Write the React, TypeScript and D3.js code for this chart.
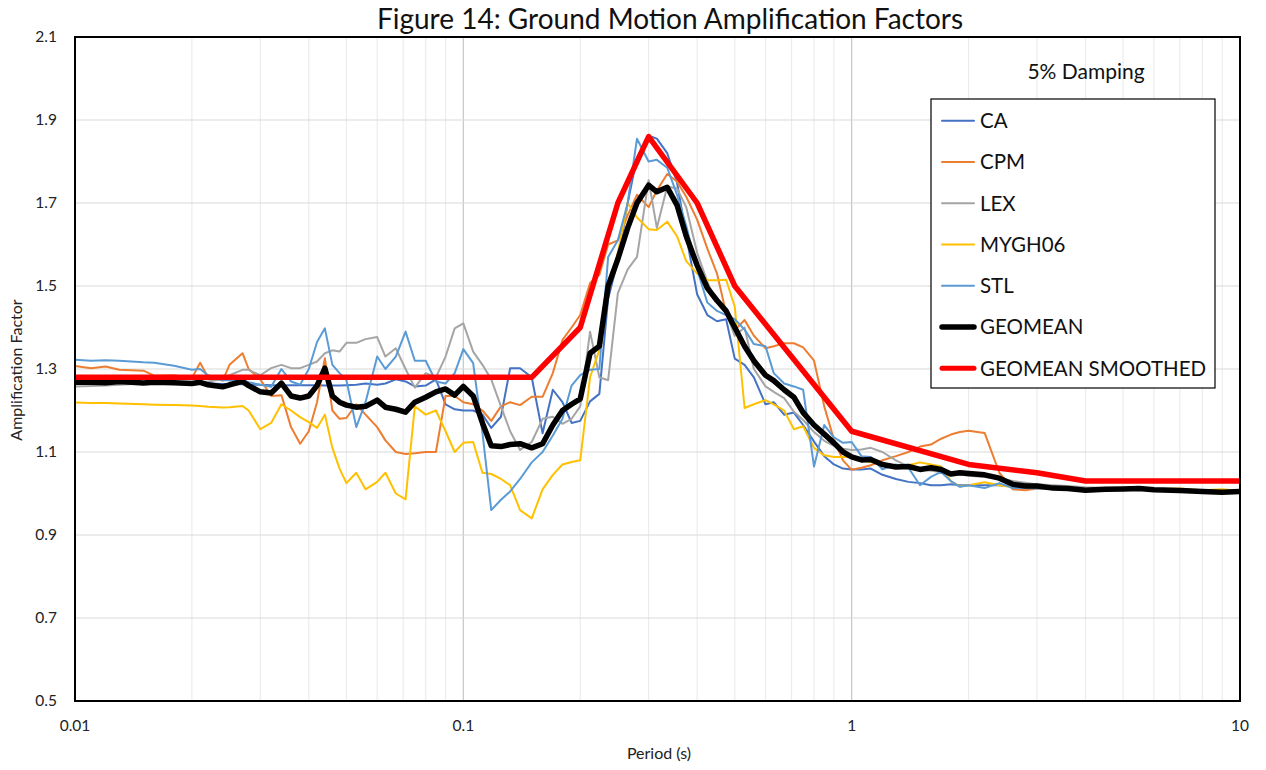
import React from "react";
import * as d3 from "d3";

// Spectral periods (s) shared by every station series
const periods = [
  0.01, 0.011, 0.012, 0.013, 0.015, 0.016, 0.018, 0.02, 0.021, 0.022, 0.024, 0.025, 0.027, 0.028, 0.03,
  0.032, 0.034, 0.036, 0.038, 0.04, 0.042, 0.044, 0.046, 0.048, 0.05, 0.053, 0.056, 0.06, 0.063, 0.067, 0.071, 0.075, 0.08, 0.085, 0.09, 0.095, 0.1,
  0.106, 0.112, 0.118, 0.125, 0.132, 0.14, 0.15, 0.16, 0.17, 0.18, 0.19, 0.2, 0.212, 0.224, 0.236, 0.25, 0.265, 0.28, 0.3,
  0.315, 0.335, 0.355, 0.375, 0.4, 0.425, 0.45, 0.475, 0.5, 0.53, 0.56, 0.6, 0.63, 0.67, 0.71, 0.75, 0.8, 0.85, 0.9, 0.95, 1.0,
  1.06, 1.12, 1.2, 1.3, 1.4, 1.5, 1.6, 1.7, 1.8, 1.9, 2.0, 2.2, 2.4, 2.6, 2.8, 3.0, 3.3, 3.6, 4.0, 4.5, 5.0, 5.5, 6, 7, 8, 9, 10,
];

const ca = [
  1.265, 1.266, 1.266, 1.266, 1.266, 1.266, 1.266, 1.265, 1.265, 1.265, 1.264, 1.264, 1.263, 1.262, 1.262,
  1.261, 1.26, 1.261, 1.261, 1.261, 1.261, 1.26, 1.26, 1.26, 1.261, 1.262, 1.265, 1.262, 1.265, 1.275, 1.27, 1.258, 1.26, 1.275, 1.215, 1.203, 1.2,
  1.2, 1.19, 1.158, 1.185, 1.302, 1.302, 1.28, 1.145, 1.25, 1.22, 1.17, 1.175, 1.222, 1.24, 1.47, 1.56, 1.7, 1.81, 1.862,
  1.855, 1.82, 1.75, 1.62, 1.48, 1.43, 1.415, 1.42, 1.325, 1.31, 1.28, 1.215, 1.22, 1.19, 1.195, 1.165, 1.125, 1.09, 1.07, 1.06, 1.058,
  1.058, 1.06, 1.045, 1.035, 1.028, 1.025, 1.02, 1.02, 1.022, 1.02, 1.02, 1.02, 1.02, 1.018, 1.017, 1.016, 1.014, 1.013, 1.01, 1.01, 1.01, 1.01, 1.008, 1.006, 1.004, 1.003, 1.004,
];

const cpm = [
  1.307, 1.302, 1.306, 1.298, 1.296, 1.284, 1.285, 1.278, 1.315, 1.28, 1.272, 1.31, 1.338, 1.3, 1.275,
  1.235, 1.237, 1.16, 1.12, 1.15, 1.22, 1.326, 1.2, 1.18, 1.182, 1.215, 1.19, 1.16, 1.128, 1.1, 1.095, 1.097, 1.1, 1.1, 1.235, 1.235, 1.22,
  1.215, 1.2, 1.175, 1.21, 1.22, 1.213, 1.233, 1.233, 1.29, 1.37, 1.4, 1.43, 1.507, 1.527, 1.6, 1.61, 1.67, 1.72, 1.69,
  1.73, 1.77, 1.752, 1.715, 1.66, 1.59, 1.53, 1.435, 1.394, 1.418, 1.38, 1.35, 1.355, 1.362, 1.362, 1.352, 1.32, 1.21, 1.13, 1.08, 1.057,
  1.062, 1.068, 1.08, 1.09, 1.1, 1.113, 1.118, 1.132, 1.142, 1.148, 1.151, 1.146, 1.05, 1.01, 1.008, 1.012, 1.013, 1.012, 1.01, 1.012, 1.01, 1.01, 1.01, 1.008, 1.006, 1.005, 1.006,
];

const lex = [
  1.258, 1.259, 1.26, 1.262, 1.265, 1.266, 1.266, 1.266, 1.268, 1.27, 1.275, 1.285, 1.298, 1.298, 1.285,
  1.302, 1.31, 1.302, 1.302, 1.31, 1.318, 1.338, 1.345, 1.342, 1.363, 1.363, 1.372, 1.377, 1.33, 1.35, 1.3, 1.255, 1.29, 1.28, 1.33, 1.398, 1.41,
  1.342, 1.31, 1.275, 1.21, 1.15, 1.105, 1.124, 1.18, 1.185, 1.168, 1.18, 1.21, 1.39, 1.28, 1.273, 1.483, 1.54, 1.57, 1.755,
  1.64, 1.74, 1.735, 1.69, 1.58, 1.51, 1.46, 1.435, 1.38, 1.4, 1.3, 1.258, 1.245, 1.23, 1.197, 1.177, 1.148, 1.127, 1.115, 1.108, 1.105,
  1.106, 1.11, 1.1, 1.08, 1.065, 1.058, 1.055, 1.052, 1.049, 1.046, 1.043, 1.04, 1.036, 1.03, 1.026, 1.022, 1.02, 1.018, 1.015, 1.013, 1.012, 1.011, 1.01, 1.008, 1.006, 1.005, 1.005,
];

const mygh06 = [
  1.219, 1.218, 1.218, 1.217, 1.215, 1.214, 1.213, 1.212, 1.211, 1.209, 1.207, 1.208, 1.211, 1.2, 1.155,
  1.17, 1.215, 1.2, 1.184, 1.172, 1.158, 1.19, 1.11, 1.06, 1.025, 1.05, 1.01, 1.028, 1.05, 1.0, 0.986, 1.21, 1.19, 1.2, 1.15, 1.1, 1.122,
  1.124, 1.05, 1.047, 1.035, 1.02, 0.96, 0.94, 1.01, 1.045, 1.07, 1.076, 1.08, 1.28, 1.346, 1.483, 1.58, 1.7, 1.665, 1.637,
  1.635, 1.655, 1.62, 1.56, 1.53, 1.514, 1.514, 1.515, 1.45, 1.206, 1.215, 1.225, 1.215, 1.2, 1.155, 1.162, 1.11, 1.092, 1.088, 1.088, 1.088,
  1.08, 1.076, 1.07, 1.065, 1.068, 1.075, 1.07, 1.065, 1.03, 1.017, 1.02, 1.027, 1.02, 1.015, 1.013, 1.013, 1.012, 1.012, 1.01, 1.012, 1.01, 1.01, 1.01, 1.012, 1.008, 1.01, 1.006,
];

const stl = [
  1.322, 1.32, 1.321, 1.32, 1.316, 1.315, 1.308, 1.298, 1.3, 1.285, 1.273, 1.273, 1.273, 1.268, 1.262,
  1.257, 1.3, 1.27, 1.262, 1.3, 1.365, 1.398, 1.31, 1.29, 1.273, 1.16, 1.22, 1.33, 1.3, 1.33, 1.39, 1.32, 1.32, 1.27, 1.265, 1.29, 1.348,
  1.314, 1.146, 0.96, 0.985, 1.005, 1.035, 1.075, 1.1, 1.14, 1.18, 1.26, 1.285, 1.298, 1.3, 1.57, 1.61, 1.7, 1.855, 1.8,
  1.804, 1.785, 1.72, 1.645, 1.54, 1.46, 1.44, 1.43, 1.42, 1.395, 1.36, 1.355, 1.29, 1.265, 1.258, 1.25, 1.065, 1.165, 1.135, 1.122, 1.124,
  1.09, 1.088, 1.058, 1.07, 1.062, 1.02, 1.04, 1.052, 1.03, 1.016, 1.02, 1.013, 1.025, 1.013, 1.013, 1.012, 1.012, 1.011, 1.01, 1.01, 1.01, 1.009, 1.008, 1.007, 1.006, 1.005, 1.005,
];

const geomean = [
  1.268, 1.268, 1.267, 1.27, 1.266, 1.268, 1.267, 1.265, 1.268, 1.262, 1.257, 1.262, 1.27, 1.26, 1.245,
  1.242, 1.266, 1.235, 1.23, 1.235, 1.26, 1.302, 1.235, 1.22, 1.213, 1.208, 1.21, 1.225, 1.208, 1.203, 1.196, 1.22, 1.232, 1.245, 1.252, 1.237, 1.258,
  1.235, 1.17, 1.115, 1.113, 1.118, 1.12, 1.11, 1.12, 1.165, 1.2, 1.215, 1.228, 1.338, 1.355, 1.5, 1.565, 1.64, 1.7, 1.743,
  1.727, 1.738, 1.695, 1.62, 1.55, 1.495, 1.465, 1.44, 1.4, 1.355, 1.32, 1.285, 1.272, 1.25, 1.232, 1.195, 1.165, 1.143, 1.122, 1.1, 1.088,
  1.081, 1.082, 1.07, 1.064, 1.065, 1.058, 1.062, 1.058, 1.047, 1.05, 1.048, 1.045, 1.037, 1.022, 1.018, 1.018, 1.013, 1.012, 1.008, 1.01, 1.011, 1.012, 1.009, 1.007, 1.005, 1.003, 1.005,
];

// Smoothed design curve (its own corner periods)
const smoothPeriods = [0.01, 0.15, 0.2, 0.25, 0.3, 0.4, 0.5, 1, 2, 3, 4, 10];
const smoothValues = [1.28, 1.28, 1.4, 1.7, 1.86, 1.7, 1.5, 1.15, 1.07, 1.05, 1.03, 1.03];

const yTicks = [0.5, 0.7, 0.9, 1.1, 1.3, 1.5, 1.7, 1.9, 2.1];
const xTickLabels = [0.01, 0.1, 1, 10];

const seriesDefs = [
  { name: "CA", values: ca, color: "#4472C4", width: 2 },
  { name: "CPM", values: cpm, color: "#ED7D31", width: 2 },
  { name: "LEX", values: lex, color: "#A5A5A5", width: 2 },
  { name: "MYGH06", values: mygh06, color: "#FFC000", width: 2 },
  { name: "STL", values: stl, color: "#5B9BD5", width: 2 },
  { name: "GEOMEAN", values: geomean, color: "#000000", width: 5.5 },
];

const W = 1266;
const H = 770;
const L = 75;
const R = 1240;
const T = 37;
const B = 701;
const FONT = "Lato, 'Open Sans', sans-serif";

export default function App() {
  const x = d3.scaleLog().domain([0.01, 10]).range([L, R]);
  const y = d3.scaleLinear().domain([0.5, 2.1]).range([B, T]);

  const line = d3
    .line<[number, number]>()
    .x((d) => x(d[0]))
    .y((d) => y(d[1]));

  // minor log grid: 2..9 within each decade
  const minor: number[] = [];
  [0.01, 0.1, 1].forEach((dec) => {
    for (let k = 2; k <= 9; k++) minor.push(dec * k);
  });

  const legendItems = [
    ...seriesDefs.map((s) => ({ name: s.name, color: s.color, width: s.name === "GEOMEAN" ? 5.5 : 2 })),
    { name: "GEOMEAN SMOOTHED", color: "#FF0000", width: 5 },
  ];

  return (
    <svg
      width={W}
      height={H}
      style={{ position: "absolute", left: 0, top: 0, background: "#fff" }}
      fontFamily={FONT}
    >
      <defs>
        <clipPath id="plot">
          <rect x={L} y={T} width={R - L} height={B - T} />
        </clipPath>
      </defs>
      <rect x={0} y={0} width={W} height={H} fill="#fff" />

      {/* grid */}
      {minor.map((v) => (
        <line key={"m" + v} x1={x(v)} x2={x(v)} y1={T} y2={B} stroke="#ececec" strokeWidth={1.2} />
      ))}
      {[0.1, 1].map((v) => (
        <line key={"M" + v} x1={x(v)} x2={x(v)} y1={T} y2={B} stroke="#c6c6c6" strokeWidth={1.2} />
      ))}
      {yTicks.slice(1, -1).map((v) => (
        <line key={"h" + v} x1={L} x2={R} y1={y(v)} y2={y(v)} stroke="#d9d9d9" strokeWidth={1.2} />
      ))}

      {/* series */}
      <g clipPath="url(#plot)" fill="none" strokeLinejoin="round" strokeLinecap="round">
        {seriesDefs.map((s) => (
          <path
            key={s.name}
            d={line(periods.map((p, i) => [p, s.values[i]]) as [number, number][]) || ""}
            stroke={s.color}
            strokeWidth={s.width}
          />
        ))}
        <path
          d={line(smoothPeriods.map((p, i) => [p, smoothValues[i]]) as [number, number][]) || ""}
          stroke="#FF0000"
          strokeWidth={5.5}
        />
      </g>

      {/* plot frame */}
      <rect x={L} y={T} width={R - L} height={B - T} fill="none" stroke="#000" strokeWidth={2} />

      {/* y tick labels */}
      {yTicks.map((v) => (
        <text key={"yt" + v} x={57} y={y(v)} dy="0.35em" textAnchor="end" fontSize={15.5} fill="#222">
          {d3.format(".1f")(v)}
        </text>
      ))}
      {/* x tick labels */}
      {xTickLabels.map((v) => (
        <text key={"xt" + v} x={x(v)} y={731} textAnchor="middle" fontSize={15.5} fill="#222">
          {String(v)}
        </text>
      ))}

      {/* titles */}
      <text x={670} y={29} textAnchor="middle" fontSize={28} fill="#111">
        Figure 14: Ground Motion Amplification Factors
      </text>
      <text x={659} y={759} textAnchor="middle" fontSize={16} fill="#222">
        Period (s)
      </text>
      <text
        transform="translate(22,370) rotate(-90)"
        textAnchor="middle"
        fontSize={16}
        fill="#222"
      >
        Amplification Factor
      </text>
      <text x={1086} y={79} textAnchor="middle" fontSize={21} fill="#111">
        5% Damping
      </text>

      {/* legend */}
      <g>
        <rect x={931} y={99} width={284} height={289} fill="#fff" stroke="#000" strokeWidth={1.2} />
        {legendItems.map((it, i) => {
          const cy = 120.7 + i * 41.25;
          return (
            <g key={it.name}>
              <line
                x1={942}
                x2={974}
                y1={cy}
                y2={cy}
                stroke={it.color}
                strokeWidth={it.width}
                strokeLinecap="round"
              />
              <text x={980} y={cy} dy="0.36em" fontSize={20.5} fill="#111">
                {it.name}
              </text>
            </g>
          );
        })}
      </g>
    </svg>
  );
}
